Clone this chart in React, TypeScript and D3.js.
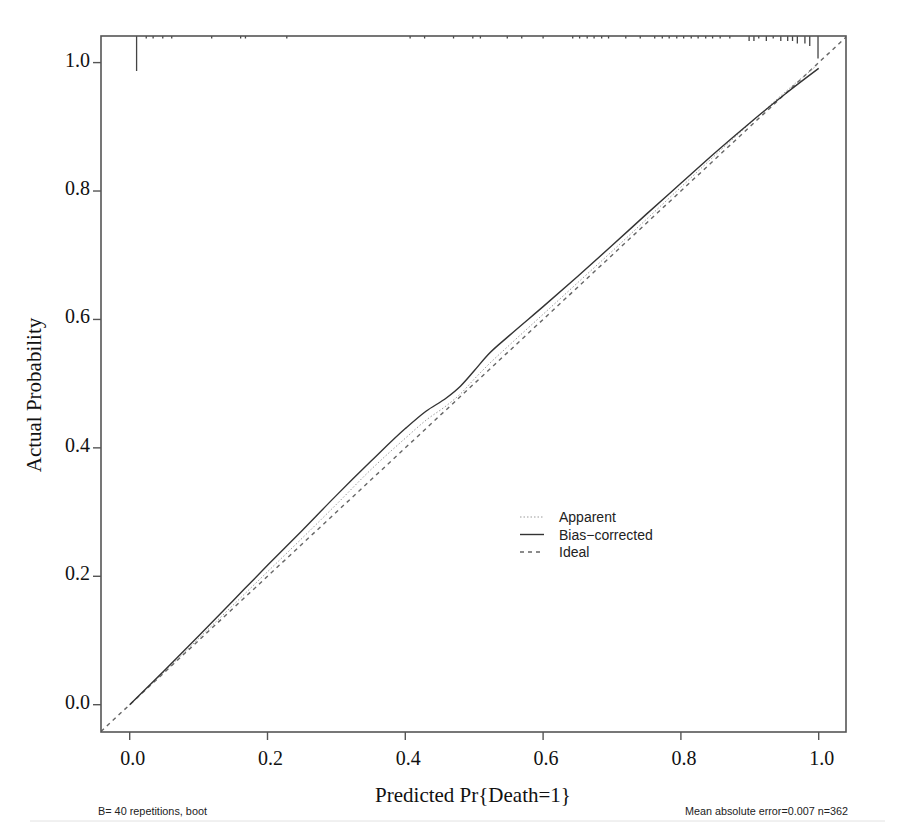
import React from "react";
import * as d3 from "d3";

// Predicted probability grid
const predicted = [0, 0.05, 0.1, 0.15, 0.2, 0.25, 0.3, 0.35, 0.4, 0.43, 0.46, 0.48, 0.5, 0.52, 0.55, 0.6, 0.65, 0.7, 0.75, 0.8, 0.85, 0.9, 0.95, 1.0];
// Apparent calibration curve
const apparent = [0, 0.051, 0.103, 0.155, 0.207, 0.259, 0.312, 0.366, 0.415, 0.443, 0.466, 0.484, 0.507, 0.529, 0.559, 0.608, 0.657, 0.706, 0.756, 0.806, 0.856, 0.905, 0.953, 0.998];
// Bias-corrected calibration curve
const biasCorrected = [0, 0.053, 0.107, 0.162, 0.217, 0.271, 0.326, 0.379, 0.43, 0.457, 0.478, 0.496, 0.52, 0.545, 0.574, 0.62, 0.667, 0.715, 0.764, 0.812, 0.86, 0.906, 0.95, 0.991];

// Rug (distribution of predictions) at the top
const rugX = [0.01, 0.024, 0.034, 0.048, 0.061, 0.119, 0.161, 0.168, 0.228, 0.407, 0.428, 0.47, 0.498, 0.509, 0.548, 0.569, 0.6, 0.643, 0.653, 0.664, 0.674, 0.685, 0.695, 0.72, 0.741, 0.762, 0.773, 0.783, 0.794, 0.804, 0.815, 0.825, 0.836, 0.846, 0.857, 0.871, 0.899, 0.906, 0.913, 0.924, 0.934, 0.945, 0.955, 0.962, 0.969, 0.98, 0.987, 0.999];
const rugCount = [14, 1, 1, 1, 1, 1, 1, 1, 1, 1, 1, 1, 1, 1, 1, 1, 1, 1, 1, 1, 1, 1, 1, 1, 1, 1, 1, 1, 1, 1, 1, 1, 1, 1, 1, 1, 2, 2, 1, 2, 1, 2, 2, 2, 3, 3, 4, 9];

const xTicks = [0, 0.2, 0.4, 0.6, 0.8, 1.0];
const yTicks = [0, 0.2, 0.4, 0.6, 0.8, 1.0];

const legendItems = ["Apparent", "Bias\u2212corrected", "Ideal"];

const xLabel = "Predicted Pr{Death=1}";
const yLabel = "Actual Probability";
const footLeft = "B= 40 repetitions, boot";
const footRight = "Mean absolute error=0.007 n=362";

export default function App() {
  const W = 905, H = 832;
  const frame = { left: 101, right: 846, top: 36, bottom: 732 };
  const x = d3.scaleLinear().domain([0, 1]).range([129.7, 818.7]);
  const y = d3.scaleLinear().domain([0, 1]).range([704.7, 62.6]);

  const line = d3.line<[number, number]>()
    .x((d) => x(d[0]))
    .y((d) => y(d[1]))
    .curve(d3.curveMonotoneX);

  const appPts = predicted.map((p, i) => [p, apparent[i]] as [number, number]);
  const bcPts = predicted.map((p, i) => [p, biasCorrected[i]] as [number, number]);

  const x0 = x.invert(frame.left);
  const x1 = x.invert(frame.right);
  const y0 = y.invert(frame.bottom);
  const y1 = y.invert(frame.top);
  const lo = Math.max(x0, y0);
  const hi = Math.min(x1, y1);

  const axisColor = "#555";
  const serif = "'Liberation Serif', 'Times New Roman', serif";
  const sans = "'Liberation Sans', Arial, sans-serif";

  const legendStyles = [
    { stroke: "#9a9a9a", dash: "1.5,2", width: 1 },
    { stroke: "#333", dash: "none", width: 1.4 },
    { stroke: "#666", dash: "4,4", width: 1.4 },
  ];

  return (
    <svg width={W} height={H} style={{ position: "absolute", left: 0, top: 0, background: "#fff" }}>
      <rect x={0} y={0} width={W} height={H} fill="#fff" />
      <defs>
        <clipPath id="plotClip">
          <rect x={frame.left} y={frame.top} width={frame.right - frame.left} height={frame.bottom - frame.top} />
        </clipPath>
      </defs>

      {/* Ideal line */}
      <line
        x1={x(lo)} y1={y(lo)} x2={x(hi)} y2={y(hi)}
        stroke="#666" strokeWidth={1.4} strokeDasharray="4,4"
        clipPath="url(#plotClip)"
      />
      {/* Apparent */}
      <path d={line(appPts) || ""} fill="none" stroke="#9a9a9a" strokeWidth={1} strokeDasharray="1.5,2" />
      {/* Bias-corrected */}
      <path d={line(bcPts) || ""} fill="none" stroke="#333" strokeWidth={1.4} />

      {/* Rug */}
      {rugX.map((v, i) => (
        <line key={"r" + i}
          x1={x(v)} x2={x(v)}
          y1={frame.top} y2={frame.top + 2.5 * rugCount[i]}
          stroke="#444" strokeWidth={1.3} />
      ))}

      {/* Frame */}
      <rect x={frame.left} y={frame.top} width={frame.right - frame.left} height={frame.bottom - frame.top}
        fill="none" stroke={axisColor} strokeWidth={1.6} />

      {/* X ticks */}
      {xTicks.map((t) => (
        <g key={"x" + t}>
          <line x1={x(t)} x2={x(t)} y1={frame.bottom} y2={frame.bottom + 8} stroke={axisColor} strokeWidth={1.4} />
          <text x={x(t) + 3} y={765} textAnchor="middle" fontFamily={serif} fontSize={20} fill="#111">
            {d3.format(".1f")(t)}
          </text>
        </g>
      ))}
      {/* Y ticks */}
      {yTicks.map((t) => (
        <g key={"y" + t}>
          <line x1={frame.left - 8} x2={frame.left} y1={y(t)} y2={y(t)} stroke={axisColor} strokeWidth={1.4} />
          <text x={90} y={y(t) + 4} textAnchor="end" fontFamily={serif} fontSize={20} fill="#111">
            {d3.format(".1f")(t)}
          </text>
        </g>
      ))}

      {/* Axis titles */}
      <text x={473} y={802} textAnchor="middle" fontFamily={serif} fontSize={21} fill="#111">{xLabel}</text>
      <text transform="translate(41,395) rotate(-90)" textAnchor="middle" fontFamily={serif} fontSize={21} fill="#111">{yLabel}</text>

      {/* Legend */}
      {legendItems.map((lab, i) => {
        const ly = 517 + i * 17.5;
        const s = legendStyles[i];
        return (
          <g key={"l" + i}>
            <line x1={520} x2={544} y1={ly} y2={ly} stroke={s.stroke} strokeWidth={s.width} strokeDasharray={s.dash} />
            <text x={559} y={ly + 5} fontFamily={sans} fontSize={14} fill="#222">{lab}</text>
          </g>
        );
      })}

      {/* Footnotes */}
      <text x={98} y={815} fontFamily={sans} fontSize={10} fill="#222" textLength={109} lengthAdjust="spacingAndGlyphs">{footLeft}</text>
      <text x={848} y={815} textAnchor="end" fontFamily={sans} fontSize={10} fill="#222" textLength={163} lengthAdjust="spacingAndGlyphs">{footRight}</text>
      <line x1={30} x2={885} y1={821} y2={821} stroke="#e2e2e2" strokeWidth={1} />
    </svg>
  );
}
